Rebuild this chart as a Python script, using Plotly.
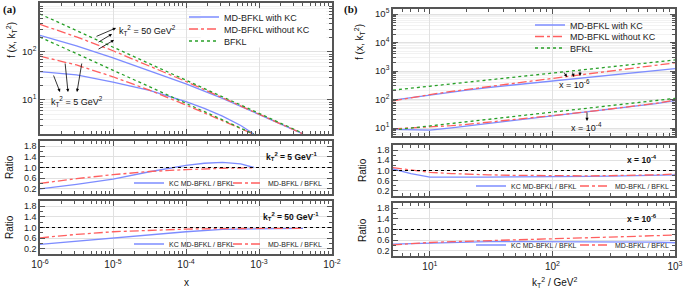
import plotly.graph_objects as go

# ---------------- data ----------------
# panel (a): f(x, kT^2) vs x
x_50 = [1e-6, 3.16e-6, 1e-5, 3.16e-5, 1e-4, 3.16e-4, 1e-3, 2e-3, 4e-3]
bfkl_50 = [617, 279, 126, 56.9, 25.7, 11.6, 5.25, 3.26, 2.02]
kc_50 = [222, 134, 75.6, 41.0, 21.6, 10.8, 5.04, 3.16, 1.96]
md_50 = [376, 206, 106, 51.2, 24.2, 11.1, 5.09, 3.16, 1.96]
r_kc_50 = [0.36, 0.48, 0.60, 0.72, 0.84, 0.93, 0.96, 0.97, 0.97]
r_md_50 = [0.61, 0.74, 0.84, 0.90, 0.94, 0.96, 0.97, 0.97, 0.97]

x_5 = [1e-6, 3.16e-6, 1e-5, 3.16e-5, 1e-4, 1.78e-4, 3.16e-4, 5.62e-4, 8.5e-4]
bfkl_5 = [204, 92.3, 41.7, 18.8, 8.51, 5.72, 3.85, 2.58, 1.94]
kc_5 = [38.8, 33.2, 23.4, 15.8, 9.19, 6.64, 4.58, 2.94, 1.94]
md_5 = [81.6, 53.5, 30.4, 16.0, 7.83, 5.43, 3.73, 2.53, 1.92]
r_kc_5 = [0.19, 0.36, 0.56, 0.84, 1.08, 1.16, 1.19, 1.14, 1.00]
r_md_5 = [0.40, 0.58, 0.73, 0.85, 0.92, 0.95, 0.97, 0.98, 0.99]

# panel (b): f(x, kT^2) vs kT^2
kt2 = [5, 7, 10, 15, 20, 30, 50, 70, 100, 200, 300, 500, 700, 1000]
bfkl_x6 = [214, 251, 295, 355, 407, 490, 617, 724, 851, 1175, 1413, 1778, 2089, 2455]
kc_x6 = [96, 118, 148, 185, 216, 265, 333, 391, 460, 623, 749, 925, 1086, 1228]
md_x6 = [90, 118, 150, 192, 228, 284, 376, 456, 553, 811, 1017, 1334, 1609, 1940]
r_kc_x6 = [0.45, 0.47, 0.50, 0.52, 0.53, 0.54, 0.54, 0.54, 0.54, 0.53, 0.53, 0.52, 0.52, 0.50]
r_md_x6 = [0.42, 0.47, 0.51, 0.54, 0.56, 0.58, 0.61, 0.63, 0.65, 0.69, 0.72, 0.75, 0.77, 0.79]

bfkl_x4 = [8.5, 10.0, 11.5, 13.8, 15.8, 19.1, 24.5, 28.8, 34.7, 47.9, 58.9, 74.1, 89.1, 110]
kc_x4 = [9.0, 8.8, 8.5, 10.1, 11.7, 14.1, 18.4, 21.6, 26.4, 36.9, 45.9, 59.3, 72.2, 91.3]
md_x4 = [9.4, 10.1, 10.7, 12.1, 13.4, 15.9, 19.8, 23.0, 27.4, 37.8, 47.1, 60.0, 74.0, 94.6]
r_kc_x4 = [1.06, 0.88, 0.74, 0.73, 0.74, 0.74, 0.75, 0.75, 0.76, 0.77, 0.78, 0.80, 0.81, 0.83]
r_md_x4 = [1.11, 1.01, 0.93, 0.88, 0.85, 0.83, 0.81, 0.80, 0.79, 0.79, 0.80, 0.81, 0.83, 0.86]

ratio_ticks = [0.2, 0.6, 1.0, 1.4, 1.8]
x_ticks_a = [1e-6, 1e-5, 1e-4, 1e-3, 1e-2]
x_labels_a = ["10<sup>-6</sup>", "10<sup>-5</sup>", "10<sup>-4</sup>", "10<sup>-3</sup>", "10<sup>-2</sup>"]
x_ticks_b = [10, 100, 1000]
x_labels_b = ["10<sup>1</sup>", "10<sup>2</sup>", "10<sup>3</sup>"]
y_ticks_a = [10, 100, 1000]
y_labels_a = ["10<sup>1</sup>", "10<sup>2</sup>", "10<sup>3</sup>"]
y_ticks_b = [10, 100, 1000, 10000, 100000]
y_labels_b = ["10<sup>1</sup>", "10<sup>2</sup>", "10<sup>3</sup>", "10<sup>4</sup>", "10<sup>5</sup>"]


def log_minor(lo_exp, hi_exp):
    # minor tick positions 2..9 x 10^n (axis decoration only)
    return [m * 10.0 ** e for e in range(lo_exp, hi_exp) for m in range(2, 10)]

# ---------------- styling ----------------
W, H = 685, 289
BLUE = "rgb(125,140,255)"
RED = "rgb(255,95,95)"
GREEN = "rgb(40,160,40)"
FONT = "Liberation Sans"
FRAME = "#555555"
GRID = "rgb(225,225,225)"

def px(xp):
    return xp / W

def py(yp):
    return 1 - yp / H

fig = go.Figure()

def line(x, y, color, dash, name, xa, ya, legend, show=True):
    fig.add_trace(go.Scatter(x=x, y=y, mode="lines", name=name,
                             line=dict(color=color, dash=dash, width=1.3),
                             xaxis=xa, yaxis=ya, legend=legend,
                             showlegend=show))

# top-left
line(x_50, kc_50, BLUE, "solid", "MD-BFKL with KC", "x", "y", "legend")
line(x_50, md_50, RED, "dashdot", "MD-BFKL without KC", "x", "y", "legend11")
line(x_50, bfkl_50, GREEN, "dot", "BFKL", "x", "y", "legend12")
line(x_5, kc_5, BLUE, "solid", "", "x", "y", "legend", False)
line(x_5, md_5, RED, "dashdot", "", "x", "y", "legend", False)
line(x_5, bfkl_5, GREEN, "dot", "", "x", "y", "legend", False)
# mid-left
line(x_5, r_kc_5, BLUE, "solid", "KC MD-BFKL / BFKL", "x2", "y2", "legend2")
line(x_5, r_md_5, RED, "dashdot", "MD-BFKL / BFKL", "x2", "y2", "legend3")
# bottom-left
line(x_50, r_kc_50, BLUE, "solid", "KC MD-BFKL / BFKL", "x3", "y3", "legend5")
line(x_50, r_md_50, RED, "dashdot", "MD-BFKL / BFKL", "x3", "y3", "legend6")
# top-right
line(kt2, kc_x6, BLUE, "solid", "MD-BFKL with KC", "x4", "y4", "legend4")
line(kt2, md_x6, RED, "dashdot", "MD-BFKL without KC", "x4", "y4", "legend13")
line(kt2, bfkl_x6, GREEN, "dot", "BFKL", "x4", "y4", "legend14")
line(kt2, kc_x4, BLUE, "solid", "", "x4", "y4", "legend4", False)
line(kt2, md_x4, RED, "dashdot", "", "x4", "y4", "legend4", False)
line(kt2, bfkl_x4, GREEN, "dot", "", "x4", "y4", "legend4", False)
# mid-right
line(kt2, r_kc_x4, BLUE, "solid", "KC MD-BFKL / BFKL", "x5", "y5", "legend7")
line(kt2, r_md_x4, RED, "dashdot", "MD-BFKL / BFKL", "x5", "y5", "legend8")
# bottom-right
line(kt2, r_kc_x6, BLUE, "solid", "KC MD-BFKL / BFKL", "x6", "y6", "legend9")
line(kt2, r_md_x6, RED, "dashdot", "MD-BFKL / BFKL", "x6", "y6", "legend10")

# ---------------- axes ----------------
LX = [px(40), px(332)]
RX = [px(393), px(675)]
doms_y = {
    1: [py(134), py(3)], 2: [py(194), py(141)], 3: [py(254), py(201)],
    4: [py(136), py(9)], 5: [py(196), py(145)], 6: [py(256), py(203)],
}

def base_axis(fs=10):
    return dict(showline=True, mirror="allticks", linecolor=FRAME, linewidth=1.5,
                ticks="inside", ticklen=5, tickcolor=FRAME, tickwidth=1,
                showgrid=True, gridcolor=GRID, gridwidth=1, zeroline=False,
                automargin=False,
                tickfont=dict(family=FONT, size=fs, color="#222"))

lay = {}
for i in range(1, 7):
    xa = base_axis(10)
    xa.update(type="log", domain=LX if i <= 3 else RX, anchor="y" if i == 1 else f"y{i}")
    if i <= 3:
        xa.update(range=[-6, -2], tickvals=x_ticks_a, ticktext=x_labels_a,
                  minor=dict(ticks="inside", ticklen=3, tickcolor=FRAME, showgrid=False,
                             tickvals=log_minor(-6, -2)))
    else:
        xa.update(range=[0.69897, 3], tickvals=x_ticks_b, ticktext=x_labels_b,
                  minor=dict(ticks="inside", ticklen=3, tickcolor=FRAME, showgrid=False,
                             tickvals=log_minor(0, 3)))
    if i not in (3, 6):
        xa.update(showticklabels=False)
    ya = base_axis(9.5)
    ya.update(domain=doms_y[i], anchor="x" if i == 1 else f"x{i}")
    if i in (1, 4):
        ya.update(type="log",
                  range=[0.29, 3.02] if i == 1 else [0.72, 5.18],
                  tickvals=y_ticks_a if i == 1 else y_ticks_b,
                  ticktext=y_labels_a if i == 1 else y_labels_b,
                  minor=dict(ticks="inside", ticklen=3, tickcolor=FRAME, showgrid=True,
                             gridcolor="rgb(242,242,242)",
                             tickvals=log_minor(0, 3) if i == 1 else log_minor(0, 5)))
    else:
        ya.update(range=[0, 2], tickvals=ratio_ticks, tickformat=".1f",
                  tickfont=dict(family=FONT, size=9, color="#222"),
                  minor=dict(ticks="inside", ticklen=3, tickcolor=FRAME, showgrid=False,
                             tickvals=[0.4, 0.8, 1.2, 1.6]))
    sx = "xaxis" if i == 1 else f"xaxis{i}"
    sy = "yaxis" if i == 1 else f"yaxis{i}"
    lay[sx] = xa
    lay[sy] = ya

fig.update_layout(**lay)

# dotted line at ratio = 1
for i in (2, 3, 5, 6):
    fig.add_shape(type="line", xref=f"x{i} domain", yref=f"y{i}", x0=0, x1=1, y0=1, y1=1,
                  line=dict(color="black", width=1, dash="dot"), layer="above")

# white box behind the top-left legend (hides gridlines there, as in the reference)
fig.add_shape(type="rect", xref="x domain", yref="y domain", x0=0.55, x1=0.98,
              y0=0.66, y1=0.955, fillcolor="white", line=dict(width=0), layer="above")

# ---------------- legends ----------------
leg_main = dict(font=dict(family=FONT, size=9, color="#222"), bgcolor="rgba(0,0,0,0)",
                borderwidth=0, xanchor="left", yanchor="middle", itemwidth=30,
                tracegroupgap=0, itemclick=False)
leg_r = dict(font=dict(family=FONT, size=7, color="#222"), bgcolor="rgba(0,0,0,0)",
             orientation="h", xanchor="left", yanchor="middle", itemwidth=30,
             itemclick=False)
legends = dict(
    legend=dict(leg_main, x=px(184), y=py(17)),
    legend11=dict(leg_main, x=px(184), y=py(29)),
    legend12=dict(leg_main, x=px(184), y=py(41)),
    legend4=dict(leg_main, x=px(530), y=py(25)),
    legend13=dict(leg_main, x=px(530), y=py(36.5)),
    legend14=dict(leg_main, x=px(530), y=py(48)),
    legend2=dict(leg_r, x=px(129), y=py(183)),
    legend3=dict(leg_r, x=px(228), y=py(183)),
    legend5=dict(leg_r, x=px(129), y=py(244)),
    legend6=dict(leg_r, x=px(228), y=py(244)),
    legend7=dict(leg_r, x=px(471), y=py(186)),
    legend8=dict(leg_r, x=px(575), y=py(186)),
    legend9=dict(leg_r, x=px(471), y=py(245)),
    legend10=dict(leg_r, x=px(575), y=py(245)),
)
fig.update_layout(**legends)

# ---------------- annotations ----------------
ann = []
def text(xp, yp, s, size=10, angle=0, family=FONT):
    ann.append(dict(xref="paper", yref="paper", x=px(xp), y=py(yp), text=s,
                    showarrow=False, textangle=angle, xanchor="center", yanchor="middle",
                    font=dict(family=family, size=size, color="#111")))

text(9, 10, "<b>(a)</b>", size=11, family="Liberation Serif")
text(351, 10, "<b>(b)</b>", size=11, family="Liberation Serif")
text(11, 40, "f (x, k<sub>T</sub><sup>2</sup>)", size=10, angle=-90)
text(359, 42, "f (x, k<sub>T</sub><sup>2</sup>)", size=10, angle=-90)
text(9, 167, "Ratio", size=10, angle=-90)
text(9, 227, "Ratio", size=10, angle=-90)
text(362, 170, "Ratio", size=10, angle=-90)
text(362, 230, "Ratio", size=10, angle=-90)
text(186, 282, "x", size=10)
text(555, 282, "k<sub>T</sub><sup>2</sup> / GeV<sup>2</sup>", size=10)
text(291, 156, "<b>k<sub>T</sub><sup>2</sup> = 5 GeV<sup>-1</sup></b>", size=8.5)
text(291, 216, "<b>k<sub>T</sub><sup>2</sup> = 50 GeV<sup>-1</sup></b>", size=8.5)
text(642, 159, "<b>x = 10<sup>-4</sup></b>", size=8.5)
text(642, 218, "<b>x = 10<sup>-6</sup></b>", size=8.5)
text(147, 31, "k<sub>T</sub><sup>2</sup> = 50 GeV<sup>2</sup>", size=9)
text(77, 101, "k<sub>T</sub><sup>2</sup> = 5 GeV<sup>2</sup>", size=9)
text(574, 84, "x = 10<sup>-6</sup>", size=9)
text(586, 127, "x = 10<sup>-4</sup>", size=9)

def arrow(x0, y0, x1, y1):
    # tail (x0,y0) -> head (x1,y1), pixel coordinates
    ann.append(dict(xref="paper", yref="paper", x=px(x1), y=py(y1),
                    ax=x0 - x1, ay=y0 - y1, axref="pixel", ayref="pixel",
                    text="", showarrow=True, arrowhead=2, arrowsize=0.8,
                    arrowwidth=0.8, arrowcolor="black"))

arrow(95, 37, 116, 28)
arrow(97, 43, 112, 34)
arrow(97, 50, 114, 40)
arrow(53, 74, 60, 92)
arrow(65, 62, 68, 92)
arrow(82, 62, 77, 92)
arrow(563, 71, 567, 77)
arrow(572, 71, 574, 77)
arrow(580, 70, 580, 76)
arrow(587, 111, 587, 121)

fig.update_layout(annotations=ann, width=W, height=H, autosize=False,
                  margin=dict(l=0, r=0, t=0, b=0, autoexpand=False), plot_bgcolor="white",
                  paper_bgcolor="white", font=dict(family=FONT))

fig.write_html("out.html", config={"displayModeBar": False},
               post_script="document.body.style.margin='0px';document.body.style.overflow='hidden';")
